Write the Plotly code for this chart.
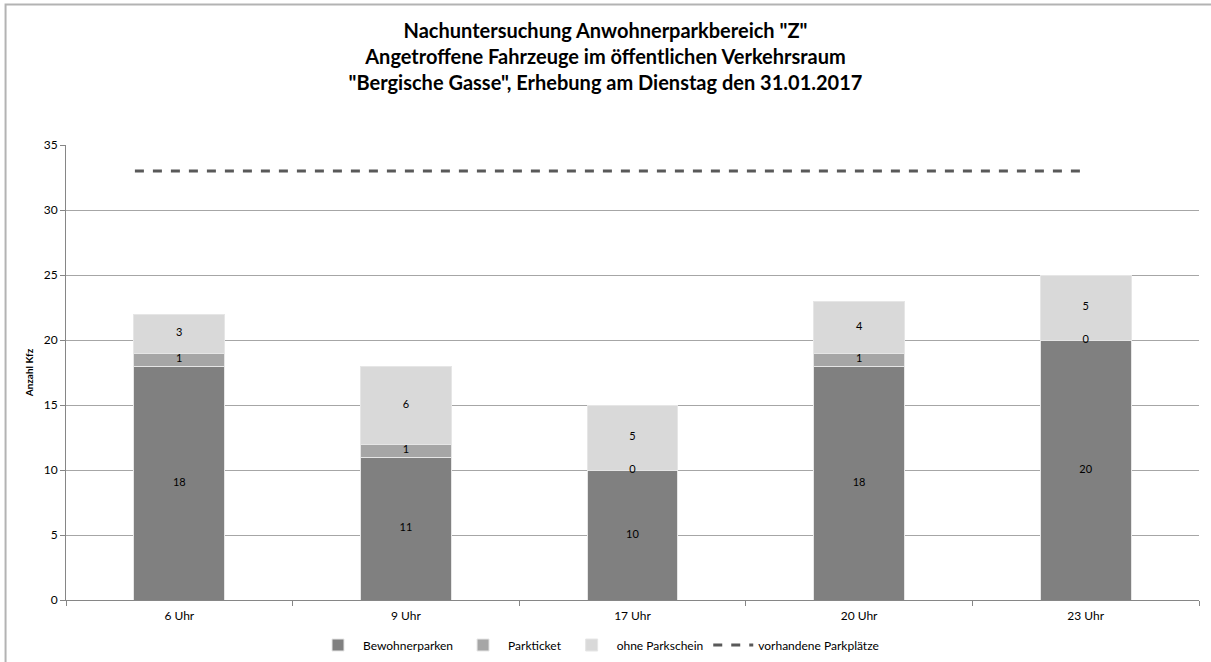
import plotly.graph_objects as go

categories = ["6 Uhr", "9 Uhr", "17 Uhr", "20 Uhr", "23 Uhr"]
bewohnerparken = [18, 11, 10, 18, 20]
parkticket = [1, 1, 0, 1, 0]
ohne_parkschein = [3, 6, 5, 4, 5]
parkplaetze = [33, 33, 33, 33, 33]

FONT = "Lato"
colors = {"Bewohnerparken": "#808080", "Parkticket": "#a6a6a6", "ohne Parkschein": "#d9d9d9"}
series = [("Bewohnerparken", bewohnerparken), ("Parkticket", parkticket), ("ohne Parkschein", ohne_parkschein)]

fig = go.Figure()
for name, vals in series:
    fig.add_trace(go.Bar(
        x=categories, y=vals, name=name,
        marker=dict(color=colors[name], line=dict(color="#e6e6e6", width=1)),
        width=0.4,
    ))

# labels centred in each segment
base = [0] * len(categories)
for name, vals in series:
    mids = [b + v / 2 for b, v in zip(base, vals)]
    fig.add_trace(go.Scatter(
        x=categories, y=mids, mode="text", text=[str(v) for v in vals],
        textfont=dict(family=FONT, size=11, color="#000000"),
        showlegend=False, hoverinfo="skip",
    ))
    base = [b + v for b, v in zip(base, vals)]

fig.add_trace(go.Scatter(
    x=list(range(len(categories))), y=parkplaetze, name="vorhandene Parkplätze",
    mode="lines", line=dict(color="#595959", width=3, dash="dash"),
    xaxis="x2",
))

fig.update_layout(
    barmode="stack",
    width=1211, height=662,
    margin=dict(l=66, r=12, t=145, b=62, autoexpand=False),
    paper_bgcolor="white", plot_bgcolor="white",
    font=dict(family=FONT, size=12, color="#000000"),
    title=dict(
        text="Nachuntersuchung Anwohnerparkbereich \"Z\"<br>Angetroffene Fahrzeuge im öffentlichen Verkehrsraum<br>\"Bergische Gasse\", Erhebung am Dienstag den 31.01.2017",
        x=0.5, xanchor="center", y=1 - 38 / 662, yanchor="middle",
        font=dict(family=FONT, size=20, color="#000000", weight="bold"),
    ),
    xaxis=dict(
        type="category", showgrid=False, showline=True, linecolor="#868686", linewidth=1,
        ticks="outside", tickson="boundaries", ticklen=5, tickcolor="#868686",
        tickfont=dict(family=FONT, size=12), range=[-0.5, 4.5], ticklabelstandoff=5,
    ),
    xaxis2=dict(overlaying="x", range=[-0.291, 4.494], visible=False),
    yaxis=dict(
        range=[0, 35], dtick=5, showgrid=True, gridcolor="#a6a6a6", gridwidth=1,
        showline=True, linecolor="#868686", linewidth=1, ticks="outside", ticklen=5,
        tickcolor="#868686", tickfont=dict(family=FONT, size=12), zeroline=False,
        title=dict(text="<b>Anzahl Kfz</b>", font=dict(family=FONT, size=10), standoff=8),
    ),
    legend=dict(
        orientation="h", x=0.47, xanchor="center", yref="container", y=1 - 645 / 662, yanchor="middle",
        font=dict(family=FONT, size=12), traceorder="normal", itemwidth=40,
    ),
    bargap=0.6,
)

fig.add_shape(type="rect", xref="paper", yref="paper",
              x0=(5.5 - 66) / 1134, x1=(1225 - 66) / 1134,
              y0=(600 - 680) / 455, y1=(600 - 4.5) / 455,
              line=dict(color="#b3b3b3", width=2), fillcolor="rgba(0,0,0,0)", layer="below")

fig.write_html("out.html")
